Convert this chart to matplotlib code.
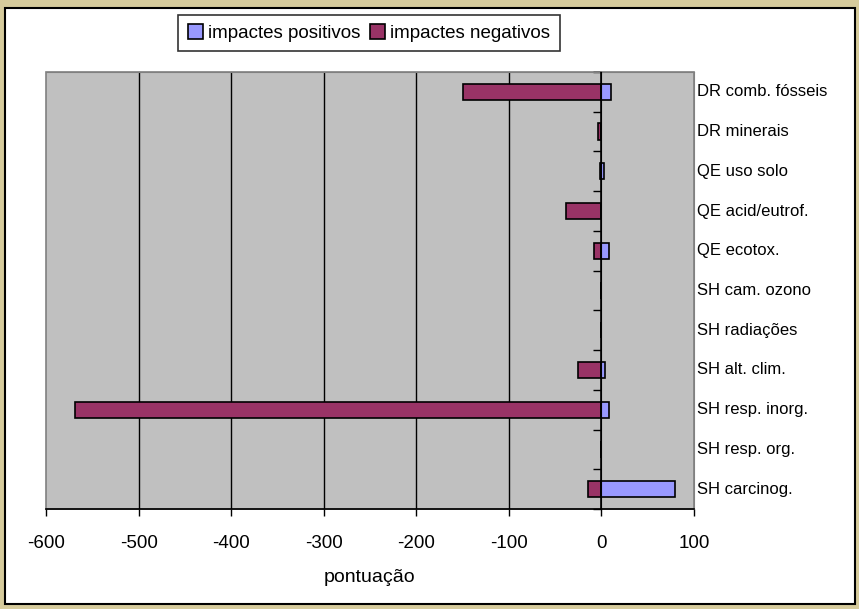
import numpy as np
import matplotlib.pyplot as plt
import matplotlib.patches as mpatches

plt.rcParams['font.family'] = ['Liberation Sans', 'DejaVu Sans']

categorias = ['DR comb. fósseis', 'DR minerais', 'QE uso solo', 'QE acid/eutrof.',
              'QE ecotox.', 'SH cam. ozono', 'SH radiações', 'SH alt. clim.',
              'SH resp. inorg.', 'SH resp. org.', 'SH carcinog.']
positivos = [10, 0, 2.5, 0, 8, 0, 0, 4, 8, 0, 79]
negativos = [-150, -4, -2, -38, -7.5, 0, 0, -25, -569, 0, -15]

cor_pos = '#9999FF'
cor_neg = '#993366'

fig = plt.figure(figsize=(8.59, 6.09), dpi=100, facecolor='#D6CB9C')
# white chart frame, behind the axes
fig.patches.append(mpatches.Rectangle((5/859, 5/609), 850/859, 596/609,
                                      transform=fig.transFigure, facecolor='white',
                                      edgecolor='black', linewidth=1.5, zorder=-10))

ax = fig.add_axes([46/859, 1 - 509/609, 648/859, 437/609])
ax.set_facecolor('#C0C0C0')
ax.patch.set_edgecolor('#808080')
ax.patch.set_linewidth(1.2)

N = len(categorias)
ind = np.arange(N)[::-1]
h = 0.41

p_neg = ax.barh(ind, negativos, h, color=cor_neg, edgecolor='black', linewidth=1.2, zorder=3)
p_pos = ax.barh(ind, positivos, h, color=cor_pos, edgecolor='black', linewidth=1.2, zorder=3)

ax.set_xlim(-600, 100)
ax.set_ylim(-0.5, N - 0.5)
ax.set_xticks(np.arange(-600, 101, 100))
ax.set_xticklabels([str(v) for v in range(-600, 101, 100)], fontsize=13.5)
for v in range(-500, 0, 100):
    ax.axvline(v, color='black', linewidth=1, zorder=1)
ax.axvline(0, color='black', linewidth=1.2, zorder=3.5)

for s in ['top', 'right']:
    ax.spines[s].set_color('#808080')
ax.spines['left'].set_position(('data', 0))
ax.spines['left'].set_color('black')
ax.spines['left'].set_zorder(4)
ax.spines['bottom'].set_color('black')
ax.spines['bottom'].set_linewidth(1.2)

ax.set_yticks(np.arange(-0.5, N, 1.0))
ax.set_yticklabels([])
ax.tick_params(axis='y', length=6, width=1, direction='out', color='black')
ax.tick_params(axis='x', length=5, width=1, pad=14, color='black')

for y, c in zip(ind, categorias):
    ax.text(1.005, y, c, transform=ax.get_yaxis_transform(), va='center', ha='left',
            fontsize=12)

ax.set_xlabel('pontuação', fontsize=14, labelpad=12)

leg = fig.legend((p_pos[0], p_neg[0]), ('impactes positivos', 'impactes negativos'),
                 loc='center', bbox_to_anchor=(369/859, 1 - 33/609), ncol=2,
                 fontsize=13.5, frameon=True, fancybox=False, edgecolor='black',
                 handlelength=0.8, handleheight=0.8, handletextpad=0.3,
                 columnspacing=0.5, borderpad=0.5, borderaxespad=0)
leg.get_frame().set_linewidth(1.2)

plt.savefig('out.png', dpi=100, facecolor=fig.get_facecolor())
